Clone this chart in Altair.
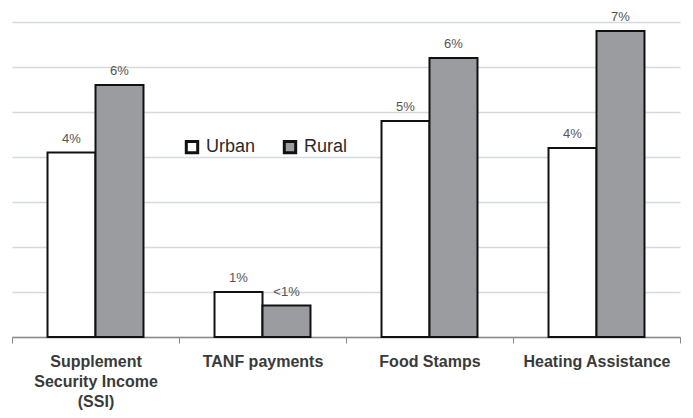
import altair as alt
import pandas as pd

categories = ["Supplement|Security Income|(SSI)", "TANF payments", "Food Stamps", "Heating Assistance"]
groups = ["Urban", "Rural"]
urban_values = [4.1, 1.0, 4.8, 4.2]
rural_values = [5.6, 0.7, 6.2, 6.8]
urban_labels = ["4%", "1%", "5%", "4%"]
rural_labels = ["6%", "<1%", "6%", "7%"]
grid_values = [0, 1, 2, 3, 4, 5, 6, 7]

rows = []
for i, c in enumerate(categories):
    rows.append({"cat": c, "group": "Urban", "value": urban_values[i], "label": urban_labels[i]})
    rows.append({"cat": c, "group": "Rural", "value": rural_values[i], "label": rural_labels[i]})
df = pd.DataFrame(rows)

FONT = "Liberation Sans"

x = alt.X("cat:N", sort=categories, title=None,
          scale=alt.Scale(paddingInner=0, paddingOuter=0),
          axis=alt.Axis(labelAngle=0, labelExpr="split(datum.label, '|')",
                        labelFont=FONT, labelFontSize=16, labelFontWeight="bold",
                        labelColor="#3a3a3a", labelPadding=18, labelLineHeight=20,
                        labelBaseline="middle",
                        tickBand="extent", tickSize=6, tickColor="#888",
                        domainColor="#8a8a8a", domainWidth=1.5, grid=False))
xoff = alt.XOffset("group:N", sort=groups,
                   scale=alt.Scale(paddingInner=0, paddingOuter=0.74))
y = alt.Y("value:Q", title=None,
          scale=alt.Scale(domain=[0, 7], nice=False),
          axis=alt.Axis(grid=True, gridColor="#d6d9df", gridWidth=1.5,
                        values=grid_values,
                        labels=False, ticks=False, domain=False))

bars = alt.Chart(df).mark_bar(stroke="#111", strokeWidth=2).encode(
    x=x, xOffset=xoff, y=y,
    fill=alt.Fill("group:N", sort=groups,
                  scale=alt.Scale(domain=groups, range=["#ffffff", "#9b9ca0"]),
                  legend=alt.Legend(title=None, orient="none", direction="horizontal",
                                    legendX=171, legendY=116,
                                    symbolType="square", symbolSize=130,
                                    symbolStrokeColor="#111", symbolStrokeWidth=3,
                                    labelFont=FONT, labelFontSize=18, labelColor="#2a2a2a",
                                    columnPadding=22, labelOffset=5)),
)

text = alt.Chart(df).mark_text(dy=-14, font=FONT, fontSize=13, color="#555",
                               baseline="middle").encode(
    x=x, xOffset=xoff, y=y, text="label:N")

chart = alt.layer(bars, text).properties(
    width=668, height=315,
    autosize=alt.AutoSizeParams(type="none"),
    padding={"left": 4, "top": 14, "right": 5, "bottom": 73},
    background="white",
).configure_view(stroke=None)

chart.save("out.html", embed_options={"renderer": "svg", "actions": False})
